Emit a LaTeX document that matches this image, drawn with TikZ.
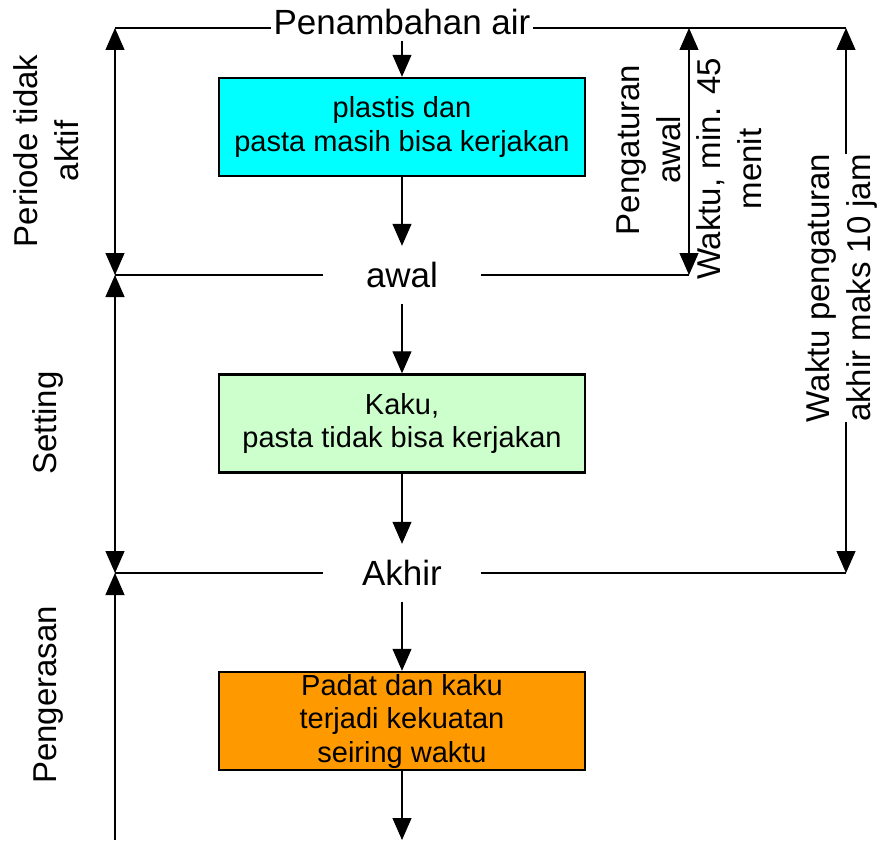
\documentclass[tikz,border=0pt]{standalone}
\usepackage{fontspec}
\setmainfont{Liberation Sans}
\usetikzlibrary{arrows.meta}
\definecolor{boxcyan}{HTML}{00FFFF}
\definecolor{boxgreen}{HTML}{CCFFCC}
\definecolor{boxorange}{HTML}{FF9900}
\begin{document}
\begin{tikzpicture}[x=1pt,y=-1pt,
  stage/.style={draw=black, line width=2.4pt, minimum width=366pt, minimum height=98pt,
    align=center, inner sep=0pt, font=\fontsize{29}{33.5}\selectfont},
  milestone/.style={font=\fontsize{35}{40}\selectfont, text height=25pt, text depth=0pt,
    minimum width=158pt, minimum height=58pt, inner sep=0pt},
  span/.style={rotate=90, align=center, font=\fontsize{33}{41}\selectfont, inner sep=0pt},
  flow/.style={line width=1.1pt, -{Triangle[length=22pt,width=19pt]}},
  dim/.style={line width=1.1pt, {Triangle[length=22pt,width=19pt]}-{Triangle[length=22pt,width=19pt]}},
  rule/.style={line width=1.1pt}
]
\useasboundingbox (0,0) rectangle (880,840);

% reference coordinates of the time scales
\coordinate (tl) at (115,28);
\coordinate (ml) at (115,275);
\coordinate (bl) at (115,573);
\coordinate (lb) at (115,840);
\coordinate (at) at (689,28);
\coordinate (am) at (689,275);
\coordinate (tr) at (846,28);
\coordinate (br) at (846,573);
\coordinate (end) at (402,840);

% main flow
\node[anchor=base, font=\fontsize{35}{40}\selectfont, inner xsep=2pt, inner ysep=5pt]
  (add) at (402,35) {Penambahan air};
\node[stage, fill=boxcyan] (c1) at (402,127) {plastis dan\\pasta masih bisa kerjakan};
\node[milestone] (awal) at (402,275) {awal};
\node[stage, fill=boxgreen] (c2) at (402,423.5) {Kaku,\\pasta tidak bisa kerjakan};
\node[milestone] (akhir) at (402,573) {Akhir};
\node[stage, fill=boxorange] (c3) at (402,721) {Padat dan kaku\\terjadi kekuatan\\seiring waktu};

\draw[flow] (add.south) -- (c1.north);
\draw[flow] (c1.south) -- (awal.north);
\draw[flow] (awal.south) -- (c2.north);
\draw[flow] (c2.south) -- (akhir.north);
\draw[flow] (akhir.south) -- (c3.north);
\draw[flow] (c3.south) -- (end);

% horizontal reference lines
\draw[rule] (tl) -- (tl -| add.west);
\draw[rule] (add.east |- tr) -- (tr);
\draw[rule] (ml) -- (awal.west);
\draw[rule] (awal.east) -- (am);
\draw[rule] (bl) -- (akhir.west);
\draw[rule] (akhir.east) -- (br);

% period labels on the left
\node[span] (p1) at (46.5,151) {Periode tidak\\aktif};
\node[span] (p2) at (47.5,423) {Setting};
\node[span] (p3) at (48.5,695) {Pengerasan};
\draw[dim] (tl) -- (ml);
\draw[dim] (ml) -- (bl);
\draw[flow] (lb) -- (bl);

% setting time scales on the right
\node[span] (pa) at (649,150) {Pengaturan\\awal};
\node[span] (wm) at (729,169) {Waktu, min. 45\\menit};
\draw[dim] (at) -- (am);
\node[span] (wpa) at (841,288) {Waktu pengaturan\\akhir maks 10 jam};
\draw[flow] (tr |- wpa.east) -- (tr);
\draw[flow] (br |- wpa.west) -- (br);
\end{tikzpicture}
\end{document}
